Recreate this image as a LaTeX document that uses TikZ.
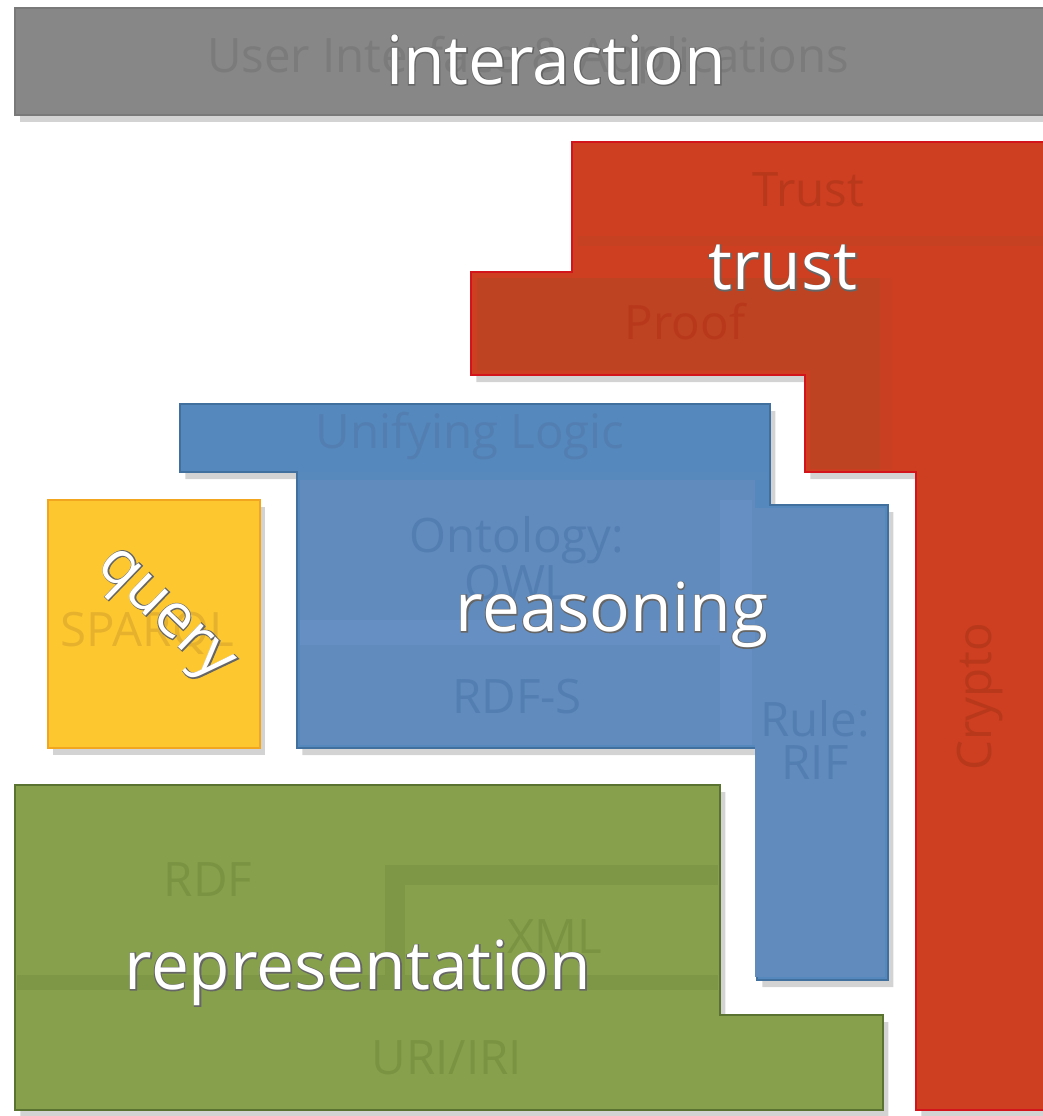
\documentclass[tikz,border=0pt]{standalone}
\usepackage{fontspec}
\setmainfont{Open Sans}
\newfontfamily\rimfont[FakeBold=3]{Open Sans}
\usetikzlibrary{shadows}

\definecolor{uigray}{HTML}{878787}
\definecolor{uigraytxt}{HTML}{7B7B7B}
\definecolor{trustred}{HTML}{CE3E20}
\definecolor{trustline}{HTML}{D3141A}
\definecolor{proofred}{HTML}{BE4322}
\definecolor{trusttxt}{HTML}{B8381B}
\definecolor{logicblue}{HTML}{5588BC}
\definecolor{logicline}{HTML}{41709F}
\definecolor{ontoblue}{HTML}{618BBD}
\definecolor{ontoband}{HTML}{6690C4}
\definecolor{bluetxt}{HTML}{537EB2}
\definecolor{queryyel}{HTML}{FDC82F}
\definecolor{queryline}{HTML}{F2A51E}
\definecolor{querytxt}{HTML}{E6B22D}
\definecolor{reprgreen}{HTML}{86A04C}
\definecolor{reprdark}{HTML}{7D9746}
\definecolor{reprline}{HTML}{5B7331}
\definecolor{greentxt}{HTML}{799342}

\newcommand{\rimtext}[1]{\rlap{\rimfont\color{black!60}#1}#1}

\tikzset{
  layer/.style={line width=1.3pt, drop shadow={shadow xshift=3pt, shadow yshift=-4pt, opacity=.35}},
  faded/.style={font=\fontsize{27}{25}\selectfont, align=center},
  topic/.style={text=white, font=\fontsize{38.5}{40}\selectfont},
}

\begin{document}
\begin{tikzpicture}[x=0.02cm, y=-0.02cm]
  \useasboundingbox (0,0) rectangle (1043,1116);
  %% interaction
  \filldraw[layer, fill=uigray, draw=uigray!90!black] (15,8) rectangle (1060,115);
  \node[faded, text=uigraytxt] (uiapps) at (528,60) {User Interface \& Applications};
  %% trust
  \filldraw[layer, fill=trustred, draw=trustline]
    (572,142) -- (1060,142) -- (1060,1110) -- (916,1110) -- (916,472) -- (805,472)
    -- (805,375) -- (471,375) -- (471,272) -- (572,272) -- cycle;
  \fill[proofred!55!trustred] (578,236) rectangle (1043,246);
  \fill[proofred] (477,278) -- (880,278) -- (880,469) -- (810,469) -- (810,370) -- (477,370) -- cycle;
  \fill[proofred!40!trustred] (880,278) rectangle (892,469);
  \node[faded, text=trusttxt] (trustsub) at (808,190) {Trust};
  \node[faded, text=trusttxt] (proofsub) at (685,322) {Proof};
  \node[faded, text=trusttxt, rotate=90] (cryptosub) at (980,697) {Crypto};
  %% reasoning
  \filldraw[layer, fill=logicblue, draw=logicline]
    (180,404) -- (770,404) -- (770,505) -- (888,505) -- (888,980) -- (757,980)
    -- (757,748) -- (297,748) -- (297,472) -- (180,472) -- cycle;
  \fill[ontoblue] (300,476) rectangle (755,745);
  \fill[ontoblue] (755,508) rectangle (885,977);
  \fill[ontoband] (300,620) rectangle (755,645);
  \fill[ontoband] (720,500) rectangle (752,745);
  \fill[logicblue!70!ontoblue] (300,472) rectangle (767,480);
  \node[faded, text=bluetxt] (logicsub) at (470,436) {Unifying Logic};
  \node[faded, text=bluetxt] (owlsub) at (517,558) {Ontology:\\OWL};
  \node[faded, text=bluetxt] (rdfssub) at (517,697) {RDF-S};
  \node[faded, text=bluetxt] (rifsub) at (815,740) {Rule:\\RIF};
  %% query
  \filldraw[layer, fill=queryyel, draw=queryline] (48,500) rectangle (260,748);
  \node[faded, text=querytxt] (sparqlsub) at (147,633) {SPARQL};
  %% representation
  \filldraw[layer, fill=reprgreen, draw=reprline]
    (15,785) -- (720,785) -- (720,1015) -- (883,1015) -- (883,1110) -- (15,1110) -- cycle;
  \fill[reprdark] (385,865) rectangle (718,978);
  \fill[reprgreen] (405,885) rectangle (718,975);
  \fill[reprdark] (17,975) rectangle (718,990);
  \node[faded, text=greentxt] (rdfsub) at (208,880) {RDF};
  \node[faded, text=greentxt] (xmlsub) at (555,937) {XML};
  \node[faded, text=greentxt] (urisub) at (447,1058) {URI/IRI};
  %% topic labels
  \node[topic] (interaction) at (556,60) {\rimtext{interaction}};
  \node[topic] (trust) at (783,268) {\rimtext{trust}};
  \node[topic] (reasoning) at (612,615) {\rimtext{reasoning}};
  \node[topic, rotate=-44, font=\fontsize{35}{36}\selectfont] (query) at (162,618) {\rimtext{query}};
  \node[topic] (representation) at (358,973) {\rimtext{representation}};
\end{tikzpicture}
\end{document}
